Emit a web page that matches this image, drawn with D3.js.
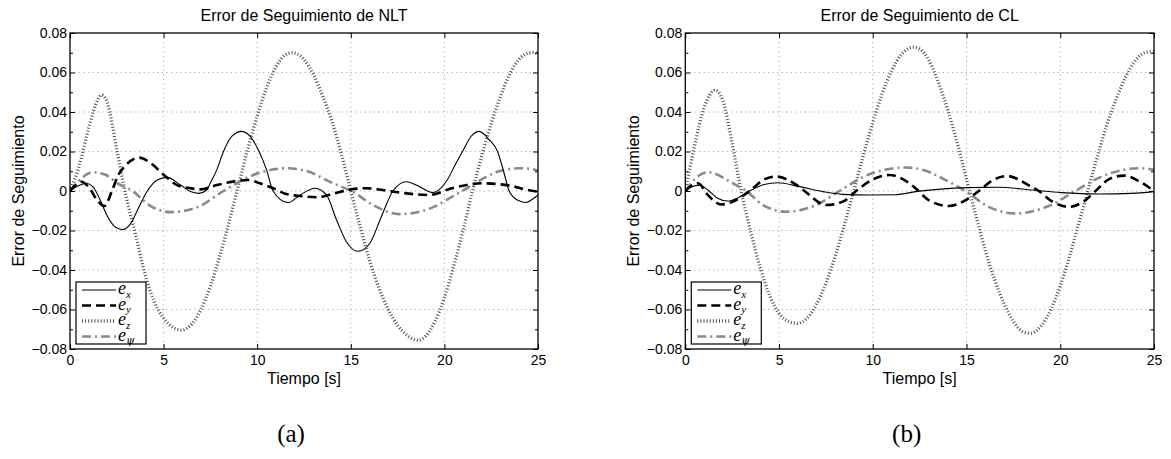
<!DOCTYPE html>
<html>
<head>
<meta charset="utf-8">
<script src="https://cdn.jsdelivr.net/npm/d3@7"></script>
<style>
  body { margin: 0; background: #fff; }
  svg { display: block; }
</style>
</head>
<body>
<svg id="fig" width="1171" height="459"></svg>
<script>
// ---- Tracking errors, NLT controller ----
const nltTimeX = [0, 0.42, 0.87, 1.22, 1.57, 2.01, 2.46, 2.81, 3.25, 3.69, 4.13, 4.66, 5.19, 5.9, 6.43, 6.87, 7.31, 7.49, 7.84, 8.2, 8.64, 9.17, 9.7, 10.1, 10.5, 10.85, 11.64, 12.29, 13.09, 13.7, 14.24, 14.77, 15.39, 16.01, 16.63, 17.25, 17.96, 18.67, 19.38, 20.09, 20.62, 20.97, 21.42, 21.86, 22.39, 22.84, 23.19, 23.46, 23.9, 24.34, 24.7, 25];
const nltErrX = [0, 0.0025, 0.0039, 0.0022, -0.0037, -0.013, -0.0185, -0.0195, -0.0164, -0.008, 0, 0.0056, 0.0069, 0.003, -0.0003, -0.0012, 0.0005, 0.0039, 0.0107, 0.02, 0.0276, 0.0302, 0.0268, 0.02, 0.0107, 0, -0.0059, -0.002, 0.0014, -0.002, -0.0147, -0.0258, -0.0305, -0.0266, -0.013, 0, 0.0047, 0.0022, -0.0008, 0.0047, 0.014, 0.02, 0.0276, 0.0302, 0.026, 0.02, 0.009, 0, -0.0046, -0.0058, -0.0042, -0.002];

const nltTimeY = [0, 0.3, 0.6, 1.0, 1.4, 1.84, 2.24, 2.54, 2.99, 3.69, 4.31, 5.02, 5.72, 6.43, 6.96, 7.84, 8.9, 9.52, 10.14, 10.85, 11.55, 12.26, 13.2, 14.1, 15.0, 15.8, 16.7, 17.6, 19.2, 20.4, 21.2, 22.04, 23.6, 24.3, 25];
const nltErrY = [0, 0.003, 0.0047, 0.002, -0.004, -0.0076, 0, 0.0073, 0.0132, 0.0169, 0.0141, 0.0081, 0.003, 0.0014, 0.0008, 0.003, 0.0051, 0.0056, 0.0039, 0.0014, -0.0015, -0.0025, -0.0032, -0.0012, 0.0008, 0.0014, 0.0005, -0.0008, -0.002, 0.0014, 0.003, 0.0039, 0.0025, 0.0008, -0.0003];

const nltTimeZ = [0, 0.5, 1.0, 1.5, 1.69, 2.0, 2.5, 3.0, 3.5, 4.0, 4.5, 5.0, 5.5, 5.97, 6.5, 7.0, 7.5, 8.0, 8.5, 9.0, 9.5, 10.0, 10.5, 11.0, 11.5, 11.87, 12.5, 13.0, 13.5, 14.0, 14.5, 15.0, 15.5, 16.0, 16.5, 17.0, 17.5, 18.0, 18.6, 19.0, 19.5, 20.0, 20.5, 21.0, 21.5, 22.0, 22.5, 23.0, 23.5, 24.0, 24.5, 24.8, 25];
const nltErrZ = [0, 0.013, 0.032, 0.0465, 0.0486, 0.0445, 0.021, -0.003, -0.022, -0.042, -0.056, -0.0645, -0.069, -0.0704, -0.0674, -0.0599, -0.0482, -0.033, -0.0156, 0.0029, 0.0213, 0.0381, 0.0523, 0.0628, 0.0689, 0.0700, 0.0665, 0.059, 0.048, 0.035, 0.0185, 0.0, -0.018, -0.035, -0.049, -0.060, -0.068, -0.073, -0.0755, -0.0735, -0.066, -0.054, -0.038, -0.020, 0.0, 0.018, 0.034, 0.048, 0.0594, 0.0668, 0.0699, 0.0702, 0.0690];

const nltTimePsi = [0, 0.42, 1.22, 1.9, 2.54, 3.34, 4.31, 5.37, 6.78, 8.2, 9.79, 11.55, 12.6, 14.06, 15.03, 16.19, 17.6, 19.38, 20.4, 21.3, 22.3, 23.0, 24.0, 24.6, 25];
const nltErrPsi = [0, 0.0047, 0.0095, 0.0082, 0.0039, 0, -0.0076, -0.0107, -0.0083, 0, 0.0081, 0.0115, 0.0102, 0.0039, 0, -0.0071, -0.0117, -0.0083, -0.003, 0.002, 0.0075, 0.0102, 0.0115, 0.0112, 0.0102];

// ---- Tracking errors, CL controller ----
const clTimeX = [0, 0.35, 0.76, 1.2, 1.7, 2.27, 2.8, 3.43, 4.2, 4.94, 6.09, 7.33, 8.4, 9.82, 11.2, 12.4, 13.5, 15.03, 16.7, 18.5, 20.05, 22.06, 23.8, 25];
const clErrX = [0, 0.0022, 0.003, 0.0005, -0.0035, -0.0051, -0.0035, 0, 0.0033, 0.0042, 0.0022, -0.0003, -0.0017, -0.002, -0.0019, -0.0002, 0.0008, 0.0017, 0.0019, 0.0005, -0.0008, -0.0015, -0.0012, -0.0003];

const clTimeY = [0, 0.3, 0.68, 1.2, 1.92, 2.54, 3.43, 4.2, 4.85, 5.5, 5.91, 6.36, 7.51, 8.4, 9.11, 10.0, 10.89, 11.6, 12.3, 12.98, 14.05, 15.03, 15.65, 16.4, 17.17, 18.3, 18.86, 19.6, 20.46, 21.35, 21.88, 22.6, 23.39, 24.2, 25];
const clErrY = [0, 0.0025, 0.0039, -0.002, -0.0068, -0.0054, 0, 0.0058, 0.0073, 0.0055, 0.0032, 0, -0.0071, -0.0054, 0, 0.0058, 0.0081, 0.006, 0.0012, -0.0046, -0.0076, -0.0042, 0, 0.0055, 0.0076, 0.003, 0, -0.0055, -0.008, -0.0046, 0, 0.006, 0.0078, 0.005, 0];

const clTimeZ = [0, 0.5, 1.0, 1.59, 2.0, 2.5, 3.0, 3.5, 4.0, 4.5, 5.0, 5.5, 5.95, 6.5, 7.0, 7.5, 8.0, 8.5, 9.0, 9.5, 10.0, 10.5, 11.0, 11.5, 12.18, 12.5, 13.0, 13.5, 14.0, 14.5, 15.0, 15.5, 16.0, 16.5, 17.0, 17.5, 18.0, 18.41, 19.0, 19.5, 20.0, 20.5, 21.0, 21.5, 22.0, 22.5, 23.0, 23.5, 24.0, 24.5, 24.9, 25];
const clErrZ = [0, 0.023, 0.042, 0.0511, 0.046, 0.024, -0.001, -0.021, -0.039, -0.053, -0.062, -0.066, -0.067, -0.0643, -0.0574, -0.0467, -0.0329, -0.0167, 0.0006, 0.0181, 0.0346, 0.0492, 0.0608, 0.0688, 0.0728, 0.0719, 0.066, 0.055, 0.041, 0.0245, 0.006, -0.0125, -0.030, -0.045, -0.057, -0.066, -0.0712, -0.072, -0.068, -0.060, -0.048, -0.033, -0.016, 0.001, 0.018, 0.034, 0.047, 0.058, 0.066, 0.070, 0.0705, 0.0704];

const clTimePsi = [0, 0.45, 1.21, 2.54, 3.25, 4.14, 5.38, 6.98, 8.22, 9.82, 11.78, 12.66, 14.05, 14.94, 16.18, 17.6, 19.38, 20.8, 22.2, 24.2, 25];
const clErrPsi = [0, 0.0055, 0.0095, 0.0039, 0, -0.0071, -0.0105, -0.0071, 0, 0.0085, 0.0119, 0.0107, 0.0047, 0, -0.008, -0.0114, -0.0076, 0, 0.0073, 0.0115, 0.0107];

// ---- Axis ticks and labels ----
const xTickValues = [0, 5, 10, 15, 20, 25];
const yTickValues = [-0.08, -0.06, -0.04, -0.02, 0, 0.02, 0.04, 0.06, 0.08];
const yMinorValues = [-0.07, -0.05, -0.03, -0.01, 0.01, 0.03, 0.05, 0.07];
const legendSubscripts = ["x", "y", "z", "\u03C8"];
const panelTitles = ["Error de Seguimiento de NLT", "Error de Seguimiento de CL"];
const panelLetters = ["(a)", "(b)"];
const xAxisLabel = "Tiempo [s]";
const yAxisLabel = "Error de Seguimiento";

// line appearance for e_x, e_y, e_z, e_psi
const lineStyles = [
  { stroke: "#000", width: 1.1, dash: null },
  { stroke: "#000", width: 2.6, dash: "9,5" },
  { stroke: "#505050", width: 3.3, dash: "1,2.1" },
  { stroke: "#8a8a8a", width: 2.6, dash: "9,4,2,4" }
];

const sansFont = "'Liberation Sans', Arial, Helvetica, sans-serif";
const serifFont = "'Liberation Serif', 'Times New Roman', serif";
const greekFont = "'DejaVu Serif', serif";

const svg = d3.select("#fig");
svg.append("rect").attr("width", 1171).attr("height", 459).attr("fill", "#fff");

function pairs(ts, vs) { return ts.map((t, i) => [t, vs[i]]); }

const panels = [
  {
    left: 70, right: 538,
    series: [pairs(nltTimeX, nltErrX), pairs(nltTimeY, nltErrY), pairs(nltTimeZ, nltErrZ), pairs(nltTimePsi, nltErrPsi)]
  },
  {
    left: 685.3, right: 1154,
    series: [pairs(clTimeX, clErrX), pairs(clTimeY, clErrY), pairs(clTimeZ, clErrZ), pairs(clTimePsi, clErrPsi)]
  }
];

const plotTop = 33, plotBottom = 349;

panels.forEach((p, idx) => {
  const x = d3.scaleLinear().domain([0, 25]).range([p.left, p.right]);
  const y = d3.scaleLinear().domain([-0.08, 0.08]).range([plotBottom, plotTop]);
  const g = svg.append("g");

  // dotted grid
  g.append("g").selectAll("line").data(xTickValues.slice(1, -1)).join("line")
    .attr("x1", d => x(d)).attr("x2", d => x(d)).attr("y1", plotTop).attr("y2", plotBottom)
    .attr("stroke", "#9a9a9a").attr("stroke-width", 1).attr("stroke-dasharray", "1,3.6");
  g.append("g").selectAll("line").data(yTickValues.slice(1, -1)).join("line")
    .attr("x1", p.left).attr("x2", p.right).attr("y1", d => y(d)).attr("y2", d => y(d))
    .attr("stroke", "#9a9a9a").attr("stroke-width", 1).attr("stroke-dasharray", "1,3.6");

  // curves
  const line = d3.line().x(d => x(d[0])).y(d => y(d[1])).curve(d3.curveMonotoneX);
  const clipId = "clip" + idx;
  svg.append("clipPath").attr("id", clipId).append("rect")
    .attr("x", p.left).attr("y", plotTop).attr("width", p.right - p.left).attr("height", plotBottom - plotTop);
  const curves = g.append("g").attr("clip-path", `url(#${clipId})`);
  [2, 3, 0, 1].forEach(k => {
    const s = lineStyles[k];
    curves.append("path").datum(p.series[k])
      .attr("d", line)
      .attr("fill", "none")
      .attr("stroke", s.stroke)
      .attr("stroke-width", s.width)
      .attr("stroke-dasharray", s.dash)
      .attr("stroke-linecap", "butt")
      .attr("stroke-linejoin", "round");
  });

  // axes with inward ticks
  const fmt = v => (v === 0 ? "0" : d3.format(".2f")(v));
  const styleAxis = sel => {
    sel.select(".domain").remove();
    sel.selectAll("line").attr("stroke", "#000").attr("stroke-width", 1);
    sel.selectAll("text").attr("font-family", sansFont).attr("font-size", 14).attr("fill", "#000");
  };
  g.append("g").attr("transform", `translate(${p.left},0)`)
    .call(d3.axisLeft(y).tickValues(yTickValues).tickFormat(fmt).tickSize(-5).tickPadding(3).tickSizeOuter(0))
    .call(styleAxis);
  g.append("g").attr("transform", `translate(${p.left},0)`)
    .call(d3.axisLeft(y).tickValues(yMinorValues).tickFormat("").tickSize(-3).tickSizeOuter(0))
    .call(styleAxis);
  g.append("g").attr("transform", `translate(${p.right},0)`)
    .call(d3.axisRight(y).tickValues(yTickValues).tickFormat("").tickSize(-5).tickSizeOuter(0))
    .call(styleAxis);
  g.append("g").attr("transform", `translate(${p.right},0)`)
    .call(d3.axisRight(y).tickValues(yMinorValues).tickFormat("").tickSize(-3).tickSizeOuter(0))
    .call(styleAxis);
  g.append("g").attr("transform", `translate(0,${plotBottom})`)
    .call(d3.axisBottom(x).tickValues(xTickValues).tickFormat(d3.format("d")).tickSize(-5).tickPadding(6).tickSizeOuter(0))
    .call(styleAxis);
  g.append("g").attr("transform", `translate(0,${plotTop})`)
    .call(d3.axisTop(x).tickValues(xTickValues).tickFormat("").tickSize(-5).tickSizeOuter(0))
    .call(styleAxis);

  // frame
  g.append("rect").attr("x", p.left).attr("y", plotTop)
    .attr("width", p.right - p.left).attr("height", plotBottom - plotTop)
    .attr("fill", "none").attr("stroke", "#000").attr("stroke-width", 1.3);

  // titles and labels
  const cx = (p.left + p.right) / 2;
  g.append("text").attr("x", cx).attr("y", 21).attr("text-anchor", "middle")
    .attr("font-family", sansFont).attr("font-size", 16).text(panelTitles[idx]);
  g.append("text").attr("x", cx).attr("y", 384).attr("text-anchor", "middle")
    .attr("font-family", sansFont).attr("font-size", 16).text(xAxisLabel);
  g.append("text").attr("transform", `translate(${p.left - 46},${(plotTop + plotBottom) / 2}) rotate(-90)`)
    .attr("text-anchor", "middle").attr("font-family", sansFont).attr("font-size", 16).text(yAxisLabel);
  g.append("text").attr("x", cx - 13).attr("y", 442).attr("text-anchor", "middle")
    .attr("font-family", serifFont).attr("font-size", 25).text(panelLetters[idx]);

  // legend
  const lx = p.left + 6, ly = 282;
  const lg = g.append("g");
  lg.append("rect").attr("x", lx).attr("y", ly).attr("width", 70).attr("height", 62)
    .attr("fill", "#fff").attr("stroke", "#000").attr("stroke-width", 1.2);
  legendSubscripts.forEach((sub, k) => {
    const yy = ly + 8 + k * 15.5;
    const s = lineStyles[k];
    lg.append("line").attr("x1", lx + 6).attr("x2", lx + 40).attr("y1", yy).attr("y2", yy)
      .attr("stroke", s.stroke).attr("stroke-width", s.width).attr("stroke-dasharray", s.dash);
    const t = lg.append("text").attr("x", lx + 42).attr("y", yy + 4)
      .attr("font-family", serifFont).attr("font-style", "italic").attr("font-size", 18)
      .attr("fill", "#000");
    t.append("tspan").text("e");
    t.append("tspan").attr("dy", 3.5).attr("font-size", 11)
      .attr("font-family", sub === "\u03C8" ? greekFont : serifFont)
      .attr("fill", "#000").text(sub);
  });
});
</script>
</body>
</html>
